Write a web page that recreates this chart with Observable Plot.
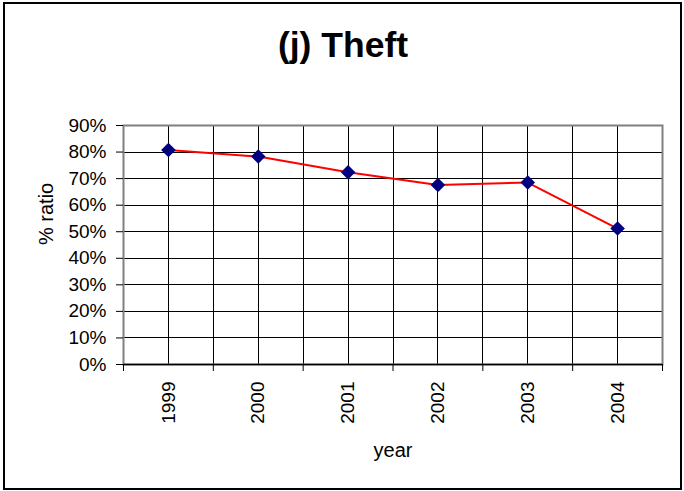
<!DOCTYPE html>
<html>
<head>
<meta charset="utf-8">
<script src="https://cdn.jsdelivr.net/npm/d3@7"></script>
<script src="https://cdn.jsdelivr.net/npm/@observablehq/plot@0.6"></script>
<style>
  html, body { margin: 0; padding: 0; background: #fff; }
  #chart { width: 684px; height: 491px; }
</style>
</head>
<body>
<div id="chart"></div>
<script>
const years = [1999, 2000, 2001, 2002, 2003, 2004];
const ratio = [0.808, 0.783, 0.724, 0.676, 0.685, 0.512];
const yTicks = [0, 0.1, 0.2, 0.3, 0.4, 0.5, 0.6, 0.7, 0.8, 0.9];
const boundaries = [1998.5, 1999.5, 2000.5, 2001.5, 2002.5, 2003.5, 2004.5];
const title = "(j) Theft";
const xLabel = "year";
const yLabel = "% ratio";

const data = years.map((y, i) => ({year: y, ratio: ratio[i]}));
const font = "Arial, 'Liberation Sans', sans-serif";

const plot = Plot.plot({
  width: 684,
  height: 491,
  marginLeft: 123,
  marginRight: 22,
  marginTop: 125,
  marginBottom: 127,
  style: {fontFamily: font, fontSize: "19px", color: "#000", background: "#fff"},
  x: {domain: [1998.5, 2004.5]},
  y: {domain: [0, 0.9]},
  marks: [
    Plot.ruleX([...years, ...boundaries], {stroke: "#000", strokeWidth: 1, shapeRendering: "crispEdges"}),
    Plot.ruleY(yTicks, {stroke: "#000", strokeWidth: 1, shapeRendering: "crispEdges"}),
    Plot.frame({stroke: "#808080", strokeWidth: 2}),
    Plot.ruleY([0], {stroke: "#000", strokeWidth: 1.5}),
    Plot.axisY(yTicks, {tickSize: 7, tickPadding: 10, tickFormat: d3.format(".0%"), label: null, fontSize: 19}),
    Plot.axisX(boundaries, {tickSize: 7, tickFormat: () => "", label: null}),
    Plot.axisX(years, {tickSize: 0, tickRotate: -90, tickPadding: 17, tickFormat: d => String(d), label: null, fontSize: 19}),
    Plot.line(data, {x: "year", y: "ratio", stroke: "#ff0000", strokeWidth: 2}),
    Plot.dot(data, {x: "year", y: "ratio", symbol: "square", rotate: 45, r: 5.8, fill: "#000080", stroke: "none"}),
    Plot.text([title], {frameAnchor: "top", dx: -50, dy: -80, lineAnchor: "middle", fontSize: 35.5, fontWeight: "bold"}),
    Plot.text([xLabel], {frameAnchor: "bottom", dy: 86, lineAnchor: "middle", fontSize: 20}),
    Plot.text([yLabel], {frameAnchor: "left", dx: -77, rotate: -90, lineAnchor: "middle", fontSize: 20})
  ]
});

d3.select(plot).insert("rect", ":first-child")
  .attr("x", 4).attr("y", 3).attr("width", 677).attr("height", 486)
  .attr("fill", "#fff").attr("stroke", "#000").attr("stroke-width", 2);

document.getElementById("chart").appendChild(plot);
</script>
</body>
</html>
